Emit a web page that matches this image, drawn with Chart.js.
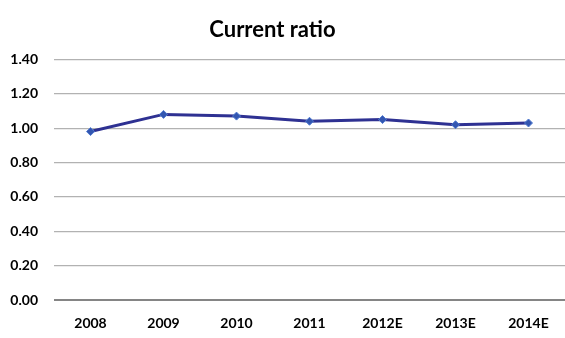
<!DOCTYPE html>
<html>
<head>
<meta charset="utf-8">
<script src="https://cdn.jsdelivr.net/npm/chart.js@4"></script>
<style>
  html, body { margin: 0; padding: 0; background: #fff; overflow: hidden; }
  #wrap { width: 565px; height: 338px; overflow: hidden; }
</style>
</head>
<body>
<div id="wrap"><canvas id="ratioChart" width="570" height="338"></canvas></div>
<script>
const years = ["2008", "2009", "2010", "2011", "2012E", "2013E", "2014E"];
const currentRatio = [0.98, 1.08, 1.07, 1.04, 1.05, 1.02, 1.03];
const yTicks = [0, 0.2, 0.4, 0.6, 0.8, 1.0, 1.2, 1.4];

const ctx = document.getElementById("ratioChart").getContext("2d");

// the original title sits a little left of centre
const nudgeTitle = {
  id: "nudgeTitle",
  afterLayout(chart) {
    if (chart.titleBlock) chart.titleBlock.right -= 32;
  },
};

new Chart(ctx, {
  type: "line",
  data: {
    labels: years,
    datasets: [
      {
        label: "Current ratio",
        data: currentRatio,
        borderColor: "#2e3192",
        borderWidth: 3,
        pointStyle: "rectRot",
        pointRadius: 4,
        pointBackgroundColor: "#3356b0",
        pointBorderColor: "#4f7ad0",
        pointBorderWidth: 1,
        tension: 0,
        fill: false,
      },
    ],
  },
  options: {
    responsive: false,
    animation: false,
    layout: { padding: { left: 8, right: 1, top: 0, bottom: 6 } },
    plugins: {
      legend: { display: false },
      tooltip: { enabled: false },
      title: {
        display: true,
        text: "Current ratio",
        color: "#000",
        font: { family: "Lato", size: 22, weight: "bold" },
        padding: { top: 17, bottom: 16 },
      },
    },
    scales: {
      x: {
        offset: true,
        grid: { display: false, drawTicks: false },
        border: { display: false },
        afterFit: (axis) => {
          axis.height = 32;
        },
        ticks: {
          color: "#000",
          font: { family: "Lato", size: 14, weight: "bold" },
          padding: 15,
          maxRotation: 0,
        },
      },
      y: {
        min: 0,
        max: 1.4,
        afterBuildTicks: (axis) => {
          axis.ticks = yTicks.map((v) => ({ value: v }));
        },
        afterFit: (axis) => {
          axis.width = 46;
        },
        grid: {
          color: (c) => (c.tick && c.tick.value === 0 ? "#858585" : "#b2b2b2"),
          lineWidth: (c) => (c.tick && c.tick.value === 0 ? 2 : 1.2),
          drawTicks: false,
        },
        border: { display: false },
        ticks: {
          color: "#000",
          font: { family: "Lato", size: 14, weight: "bold" },
          padding: 16,
          callback: (v) => Number(v).toFixed(2),
        },
      },
    },
  },
  plugins: [nudgeTitle],
});
</script>
</body>
</html>
